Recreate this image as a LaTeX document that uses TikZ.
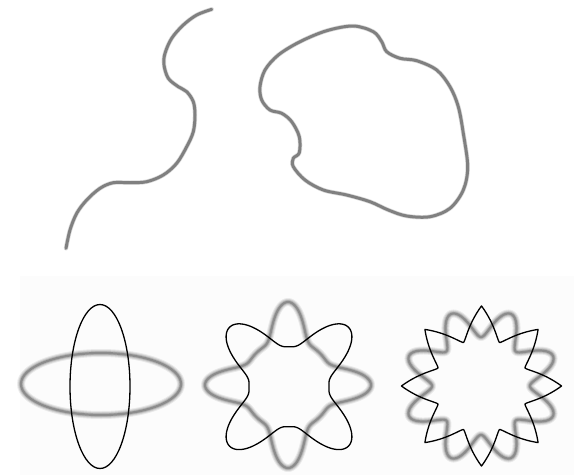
\documentclass[tikz,border=0pt]{standalone}
\definecolor{curvegray}{RGB}{128,128,128}
\definecolor{panelbg}{RGB}{252,252,252}
\pgfmathdeclarefunction{rmidb}{1}{\pgfmathparse{40+44*((1+cos(4*(#1-45)))/2+0.001)^1.7}}
\pgfmathdeclarefunction{rmidg}{1}{\pgfmathparse{45+38*((1+cos(4*#1))/2)^3}}
\pgfmathdeclarefunction{rstar}{1}{\pgfmathparse{47+33*(1.001-abs(mod(#1+22.5,45)-22.5)/22.5)^1.3}}
\pgfmathdeclarefunction{rrgtg}{1}{\pgfmathparse{49+29*((1+cos(8*(#1-22.5)))/2)}}
\begin{document}
\begin{tikzpicture}[x=1pt,y=-1pt,
  topcurve/.style={draw=curvegray,line width=3pt,line cap=round,line join=round},
  topsoft/.style={draw=curvegray,line width=4.4pt,draw opacity=0.3,line cap=round},
  blackline/.style={draw=black,line width=1.3pt,line join=round},
  blurline/.style={draw=black,line join=round}]
\useasboundingbox (0,0) rectangle (574,475);
\fill[panelbg] (20,276) rectangle (574,475);

% top open curve
\foreach \sty in {topsoft,topcurve}{
\draw[\sty] plot[smooth,tension=0.55] coordinates {
 (211.7,9.3) (196.7,15) (183.3,25) (171.7,38.3) (165,53.3) (164,65)
 (168.3,78.3) (178.3,86.7) (186.7,91.7) (193.3,101.7) (195,115) (193.3,131.7)
 (186.7,146.7) (176.7,163.3) (163.3,175) (146.7,181.7) (130,182.7) (113.3,182.7)
 (100,188.3) (86.7,200) (76.7,213.3) (70,230) (66,248.3)};
}
% top closed blob
\foreach \sty in {topsoft,topcurve}{
\draw[\sty] plot[smooth cycle,tension=0.55] coordinates {
 (353.3,26) (373.3,31.7) (381.7,41.7) (386.7,51.7) (400,58.3) (416.7,60.7)
 (436.7,70) (450,86.7) (458.3,106.7) (463.3,133.3) (467.7,166.7) (463.3,190)
 (450,208.3) (430,216.7) (406.7,216) (388.3,210) (370,201.7) (346.7,195)
 (323.3,190) (305,180) (293.3,166.7) (293.3,158.3) (299.3,152.7) (299.3,136.7)
 (291.7,121.7) (281.7,113.3) (270,110) (261.7,100) (260,86.7) (265,70)
 (278.3,55) (300,41.7) (326.7,30.7)};
}

% left panel
\foreach \w/\o in {8/0.07,6/0.1,4/0.14,2.2/0.22}{
  \draw[blurline,line width=\w pt,draw opacity=\o] (101,384) ellipse [x radius=80pt,y radius=31pt];
}
\draw[blackline] (100,386.5) ellipse [x radius=30pt,y radius=82pt];

% middle panel
\foreach \w/\o in {8/0.07,6/0.1,4/0.14,2.2/0.22}{
  \draw[blurline,line width=\w pt,draw opacity=\o] plot[domain=0:360,samples=361]
    ({288+rmidg(\x)*cos(\x)},{385+rmidg(\x)*sin(\x)}) -- cycle;
}
\draw[blackline] plot[domain=0:360,samples=361]
    ({289+rmidb(\x)*cos(\x)},{386.7+rmidb(\x)*sin(\x)}) -- cycle;

% right panel
\foreach \w/\o in {8/0.07,6/0.1,4/0.14,2.2/0.22}{
  \draw[blurline,line width=\w pt,draw opacity=\o] plot[domain=0:360,samples=361]
    ({481+rrgtg(\x)*cos(\x)},{386+rrgtg(\x)*sin(\x)}) -- cycle;
}
\draw[blackline] plot[domain=0:360,samples=361]
    ({481.5+rstar(\x)*cos(\x)},{386+rstar(\x)*sin(\x)}) -- cycle;
\end{tikzpicture}
\end{document}
